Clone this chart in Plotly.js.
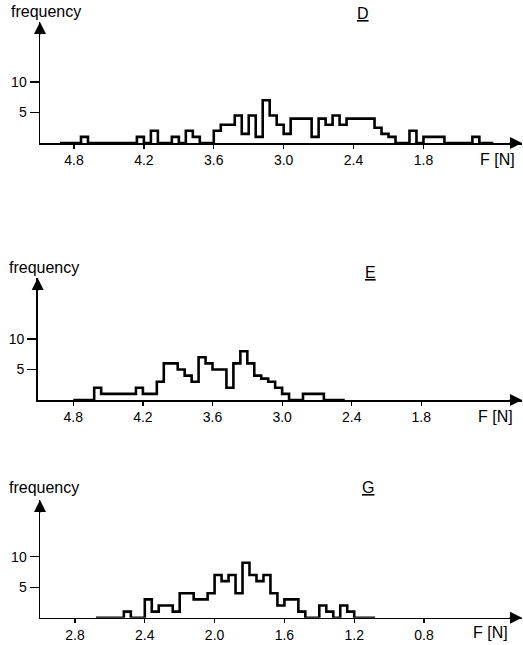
<!DOCTYPE html>
<html><head><meta charset="utf-8">
<script src="https://cdn.plot.ly/plotly-3.0.1.min.js"></script>
<style>html,body{margin:0;padding:0;background:#fff}#chart{width:523px;height:645px}</style>
</head><body><div id="chart"></div>
<script>
// ---- data (F in newtons, bins; each bin's left edge in screen order) ----
const dStart = 4.92, dWidth = 0.06;
const dCounts = [0,0,0,1,0,0,0,0,0,0,0,1,0,2,0,0,1,0,2,1,0,0,2,3,3,4.5,1.5,4.5,1,7,4.5,3,1.5,4,4,4,1,4,3,4.5,3,4,4,4,4,2.5,1.5,1,0,0,2,0,1,1,1,0,0,0,0,1,0,0];
const eStart = 4.80, eWidth = 0.06;
const eCounts = [0,0,0,2,1,1,1,1,1,2,1,1,3,6,6,5,4,3,7,6,5,5,2,6,8,6,4,3.5,3,2,1,0,0,1,1,1,0,0,0];
const gStart = 2.68, gWidth = 0.04;
const gCounts = [0,0,0,0,1,0,0,3,1,2,2,1,4,4,3,3,4,7,6,7,4,9,7,6,7,4,2,3,3,1,0,0,2,1,0,2,1,0,0,0];
const ticksDE = [4.8, 4.2, 3.6, 3.0, 2.4, 1.8];
const tickTextDE = ["4.8", "4.2", "3.6", "3.0", "2.4", "1.8"];
const ticksG = [2.8, 2.4, 2.0, 1.6, 1.2, 0.8];
const tickTextG = ["2.8", "2.4", "2.0", "1.6", "1.2", "0.8"];
const yTicks = [5, 10];
const panelNames = ["D", "E", "G"];
const yLabel = "frequency";
const xLabel = "F [N]";

function stepTrace(start, width, counts, xa, ya) {
  const x = [], y = [];
  for (let i = 0; i < counts.length; i++) { x.push(start - i * width); y.push(counts[i]); }
  x.push(start - counts.length * width); y.push(counts[counts.length - 1]);
  return { type: 'scatter', mode: 'lines', x: x, y: y, xaxis: xa, yaxis: ya,
    line: { shape: 'hv', color: '#000', width: 2.6 }, hoverinfo: 'skip' };
}

const W = 523, H = 645;
const px = v => v / W, py = v => 1 - v / H;
const FONT = 'Liberation Sans, Arial, sans-serif';

function xAx(dom, range, vals, txt, anchor) {
  return { domain: dom, range: range, anchor: anchor, tickvals: vals, ticktext: txt,
    showline: true, linecolor: '#000', linewidth: 1.5, ticks: 'outside', ticklen: 4,
    tickwidth: 1.2, tickcolor: '#000', showgrid: false, zeroline: false, fixedrange: true,
    tickfont: { family: FONT, size: 14, color: '#000' } };
}
function yAx(dom, range, anchor) {
  return { domain: dom, range: range, anchor: anchor, tickvals: yTicks, ticktext: yTicks.map(String),
    showline: true, linecolor: '#000', linewidth: 1.5, ticks: 'outside', ticklen: 9,
    tickwidth: 1.2, tickcolor: '#000', showgrid: false, zeroline: false, fixedrange: true,
    tickfont: { family: FONT, size: 14, color: '#000' } };
}

const data = [
  stepTrace(dStart, dWidth, dCounts, 'x', 'y'),
  stepTrace(eStart, eWidth, eCounts, 'x2', 'y2'),
  stepTrace(gStart, gWidth, gCounts, 'x3', 'y3')
];

function arrows(xr, yr) {
  return [
    { xref: xr + ' domain', yref: yr + ' domain', x: 1, y: 0, ax: -14, ay: 0, text: '',
      showarrow: true, arrowhead: 2, arrowsize: 1.6, arrowwidth: 1.5, arrowcolor: '#000', standoff: 0 },
    { xref: xr + ' domain', yref: yr + ' domain', x: 0, y: 1, ax: 0, ay: 14, text: '',
      showarrow: true, arrowhead: 2, arrowsize: 1.6, arrowwidth: 1.5, arrowcolor: '#000', standoff: 0 }
  ];
}
function label(text, x, y, xanchor, extra) {
  return Object.assign({ xref: 'paper', yref: 'paper', x: px(x), y: py(y), text: text, showarrow: false,
    xanchor: xanchor, yanchor: 'middle', font: { family: FONT, size: 16, color: '#000' } }, extra || {});
}

const annotations = [].concat(
  arrows('x', 'y'), arrows('x2', 'y2'), arrows('x3', 'y3'),
  [
    label(yLabel, 9, 12, 'left'),
    label(panelNames[0], 363, 13, 'center', { font: { family: FONT, size: 16, color: '#000', lineposition: 'under' } }),
    label(xLabel, 497, 159, 'center'),
    label(yLabel, 7, 267, 'left'),
    label(panelNames[1], 370, 272, 'center', { font: { family: FONT, size: 16, color: '#000', lineposition: 'under' } }),
    label(xLabel, 495, 416, 'center'),
    label(yLabel, 7, 487, 'left'),
    label(panelNames[2], 368, 487, 'center', { font: { family: FONT, size: 16, color: '#000', lineposition: 'under' } }),
    label(xLabel, 490, 632, 'center')
  ]
);

const layout = {
  width: W, height: H, margin: { l: 0, r: 0, t: 0, b: 0 }, showlegend: false,
  paper_bgcolor: '#fff', plot_bgcolor: '#fff',
  xaxis: xAx([px(40), px(522)], [5.092, 0.954], ticksDE, tickTextDE, 'y'),
  yaxis: yAx([py(143), py(22)], [0, 19.84], 'x'),
  xaxis2: xAx([px(37.7), px(522)], [5.107, 0.932], ticksDE, tickTextDE, 'y2'),
  yaxis2: yAx([py(400), py(278)], [0, 20], 'x2'),
  xaxis3: xAx([px(40), px(522)], [3.0006, 0.2384], ticksG, tickTextG, 'y3'),
  yaxis3: yAx([py(617.7), py(500)], [0, 19.3], 'x3'),
  annotations: annotations
};

Plotly.newPlot('chart', data, layout, { staticPlot: true, displayModeBar: false });
</script>
</body></html>
